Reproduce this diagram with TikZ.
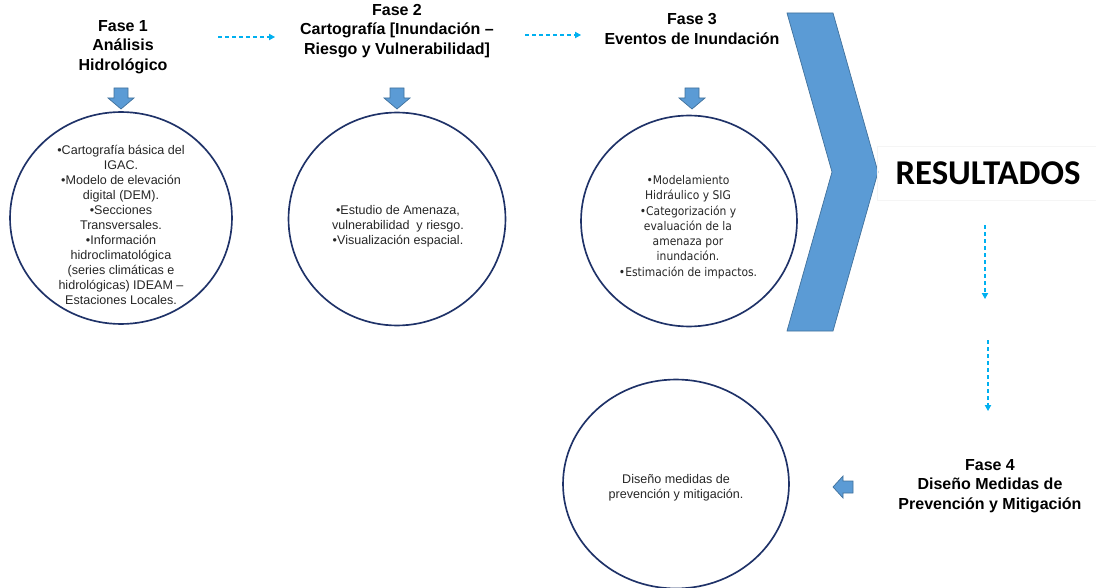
\documentclass[tikz,border=0pt]{standalone}
\usepackage{fontspec}
\setmainfont{Liberation Sans}
\newfontfamily\tahfont[FakeStretch=0.9]{DejaVu Sans}
\newfontfamily\calfont{Carlito}
\usetikzlibrary{shapes.geometric,arrows.meta}

\definecolor{navy}{HTML}{1F3268}
\definecolor{blockblue}{HTML}{5B9BD5}
\definecolor{blockedge}{HTML}{41719C}
\definecolor{flowcyan}{HTML}{00B0F0}
\definecolor{bodytext}{HTML}{262626}

\tikzset{
  phase/.style={font=\fontsize{9.1}{11.05}\selectfont\bfseries, align=center, inner sep=0pt},
  bubble/.style={ellipse, draw=navy, line width=0.95pt, inner sep=0pt},
  bubtext/.style={font=\fontsize{7.15}{8.5}\selectfont, align=center, text=bodytext, inner sep=0pt},
  tahtext/.style={font=\tahfont\fontsize{6.8}{8.7}\selectfont, align=center, text=bodytext, inner sep=0pt},
  flow/.style={draw=flowcyan, line width=0.6pt, dash pattern=on 2.4pt off 1.6pt,
               -{Triangle[length=3.4pt,width=3.6pt]}},
  blockarrow/.style={fill=blockblue, draw=blockedge, line width=0.4pt, line join=miter},
}

\begin{document}
\begin{tikzpicture}[x=0.02cm,y=-0.02cm]
\useasboundingbox (0,0) rectangle (1096,588);

% phase headings
\node[phase] (f1) at (123,47) {Fase 1\\Análisis\\Hidrológico};
\node[phase] (f2) at (397,31) {Fase 2\\Cartografía [Inundación –\\Riesgo y Vulnerabilidad]};
\node[phase] (f3) at (692,29) {Fase 3\\Eventos de Inundación};
\node[phase] (f4) at (990,486) {Fase 4\\Diseño Medidas de\\Prevención y Mitigación};

% dashed flow between the phases
\coordinate (a1s) at (218,37);
\coordinate (a1e) at (275,37);
\coordinate (a2s) at (525,35);
\coordinate (a2e) at (581,35);
\coordinate (a3s) at (985,225);
\coordinate (a3e) at (985,299);
\coordinate (a4s) at (988,340);
\coordinate (a4e) at (988,411);
\draw[flow] (a1s) -- (a1e);
\draw[flow] (a2s) -- (a2e);
\draw[flow] (a3s) -- (a3e);
\draw[flow] (a4s) -- (a4e);

% block arrows pointing down to each bubble
\foreach \cx in {121,397,692}{
  \draw[blockarrow] (\cx-7,88) -- (\cx+7,88) -- (\cx+7,98) -- (\cx+13,98) -- (\cx,109)
    -- (\cx-13,98) -- (\cx-7,98) -- cycle;
}
% block arrow pointing left to the last bubble
\draw[blockarrow] (833,487) -- (843,476) -- (843,481) -- (853,481) -- (853,493)
  -- (843,493) -- (843,498) -- cycle;

% bubbles
\node[bubble, minimum width=4.44cm, minimum height=4.24cm] (c1) at (121,218) {};
\node[bubble, minimum width=4.34cm, minimum height=4.26cm] (c2) at (397,219) {};
\node[bubble, minimum width=4.32cm, minimum height=4.22cm] (c3) at (689,221) {};
\node[bubble, minimum width=4.52cm, minimum height=4.18cm] (c4) at (676,484) {};

\node[bubtext] (t1) at (121,225) {•Cartografía básica del\\IGAC.\\•Modelo de elevación\\digital\ (DEM).\\•Secciones\\Transversales.\\•Información\\hidroclimatológica\\(series climáticas e\\hidrológicas) IDEAM –\\Estaciones Locales.};
\node[bubtext] (t2) at (398,226) {•Estudio de Amenaza,\\vulnerabilidad\ \ y riesgo.\\•Visualización espacial.};
\node[tahtext] (t3) at (688,227) {•Modelamiento\\Hidráulico y SIG\\•Categorización y\\evaluación de la\\amenaza por\\inundación.\\•Estimación de impactos.};
\node[bubtext] (t4) at (676,488) {Diseño medidas de\\prevención y mitigación.};

% results chevron
\draw[fill=blockblue, draw=blockedge, line width=0.4pt, line join=miter]
  (787,13) -- (833,13) -- (878,172) -- (833,331) -- (787,331) -- (832,172) -- cycle;

% results label in its faint frame
\draw[draw=black!4, line width=0.5pt] (877,146) rectangle (1096,200);
\node[font=\calfont\bfseries\fontsize{19.8}{22}\selectfont, inner sep=0pt] (res) at (988,173) {RESULTADOS};
\end{tikzpicture}
\end{document}
